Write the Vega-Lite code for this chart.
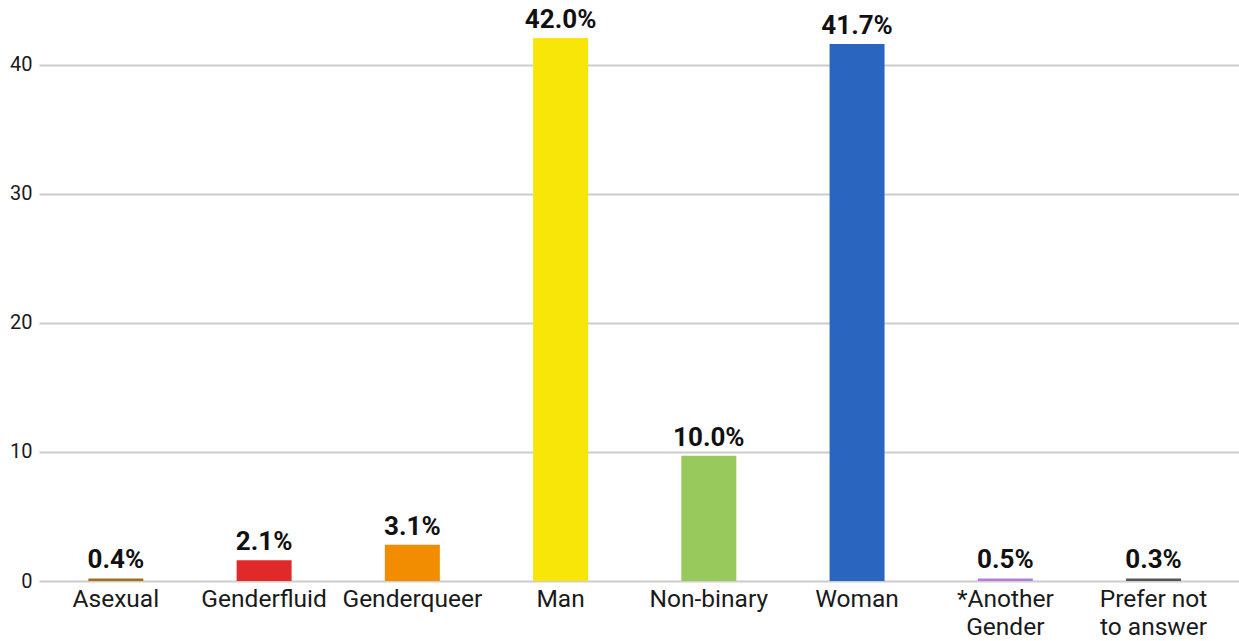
{
  "$schema": "https://vega.github.io/schema/vega-lite/v6.json",
  "autosize": {"type": "none"},
  "padding": {"left": 39, "top": 0, "right": 0, "bottom": 60},
  "width": 1200,
  "height": 581,
  "background": "white",
  "config": {
    "view": {"stroke": null},
    "font": "Roboto"
  },
  "data": {
    "values": [
      {"gender": "Asexual", "value": 0.2, "label": "0.4%", "color": "#a0701f"},
      {"gender": "Genderfluid", "value": 1.6, "label": "2.1%", "color": "#e02a2a"},
      {"gender": "Genderqueer", "value": 2.8, "label": "3.1%", "color": "#f28c00"},
      {"gender": "Man", "value": 42.05, "label": "42.0%", "color": "#f9e609"},
      {"gender": "Non-binary", "value": 9.7, "label": "10.0%", "color": "#98c95c"},
      {"gender": "Woman", "value": 41.6, "label": "41.7%", "color": "#2a66c0"},
      {"gender": "*Another|Gender", "value": 0.2, "label": "0.5%", "color": "#b27ed6"},
      {"gender": "Prefer not|to answer", "value": 0.2, "label": "0.3%", "color": "#555555"}
    ]
  },
  "encoding": {
    "x": {
      "field": "gender",
      "type": "nominal",
      "sort": null,
      "scale": {"paddingInner": 0.629, "paddingOuter": 0.362, "align": 0.46},
      "axis": {
        "title": null,
        "labelAngle": 0,
        "labelExpr": "split(datum.value, '|')",
        "labelFontSize": 24.5,
        "labelColor": "#1a1a1a",
        "labelLineHeight": 28,
        "labelPadding": 6,
        "labelBaseline": "top",
        "ticks": false,
        "domain": false,
        "grid": false
      }
    },
    "y": {
      "field": "value",
      "type": "quantitative",
      "scale": {"domain": [0, 45], "nice": false},
      "axis": {
        "title": null,
        "values": [0, 10, 20, 30, 40],
        "labelFontSize": 20,
        "labelColor": "#1a1a1a",
        "labelPadding": 7,
        "ticks": false,
        "domain": false,
        "grid": true,
        "gridColor": "#cccccc",
        "gridWidth": 2
      }
    }
  },
  "layer": [
    {
      "mark": {"type": "bar"},
      "encoding": {
        "color": {"field": "color", "type": "nominal", "scale": null, "legend": null}
      }
    },
    {
      "mark": {"type": "text", "baseline": "bottom", "dy": -5, "fontSize": 26, "fontWeight": "bold", "color": "#111111"},
      "encoding": {
        "text": {"field": "label", "type": "nominal"}
      }
    }
  ]
}
